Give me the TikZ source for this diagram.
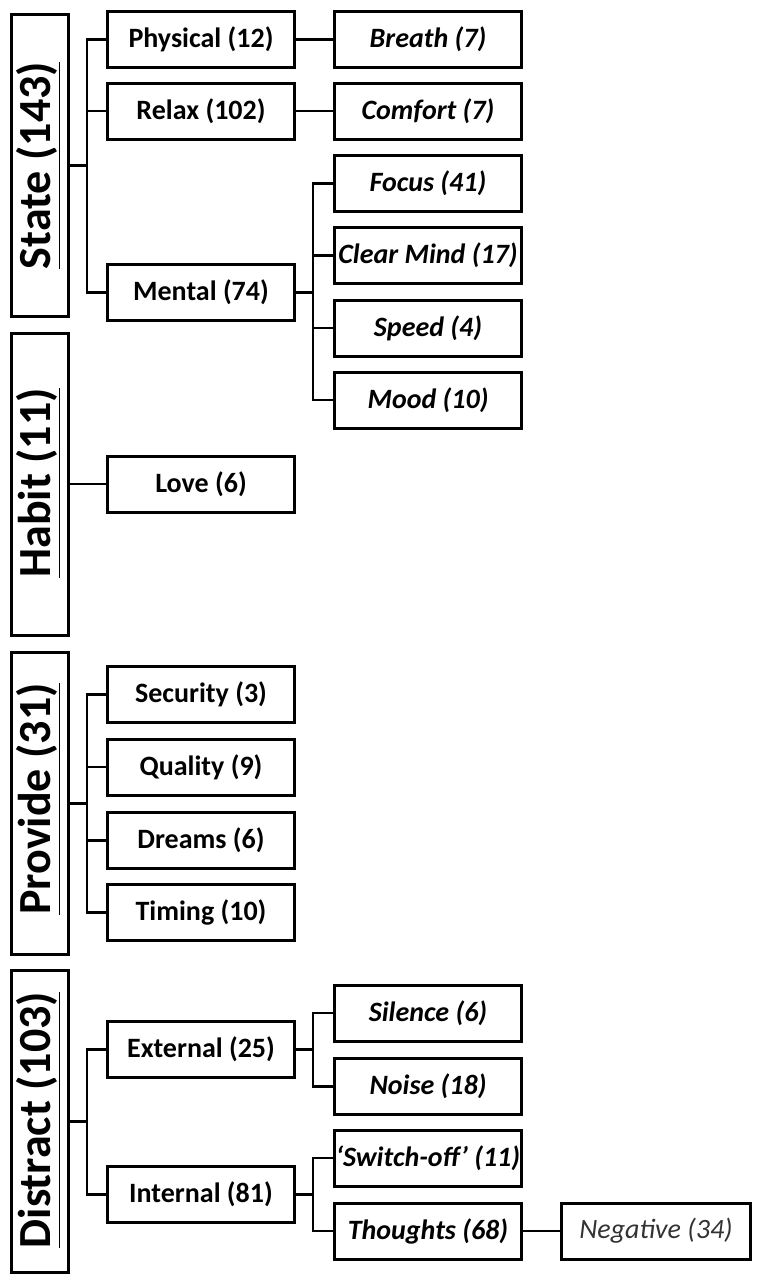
\documentclass[tikz,border=0pt]{standalone}
\usepackage{fontspec}
\setmainfont{Carlito}
\begin{document}
\begin{tikzpicture}[x=1pt,y=-1pt,
  box/.style={draw=black,line width=3pt,rectangle,inner sep=0pt,minimum width=187pt,minimum height=56pt,font=\fontsize{28}{30}\selectfont\bfseries},
  ibox/.style={box,font=\fontsize{28}{30}\selectfont\bfseries\itshape},
  nbox/.style={box,text=black!80,font=\fontsize{28}{30}\selectfont\itshape,minimum width=189pt},
  cat/.style={draw=black,line width=3pt,rectangle,inner sep=0pt,minimum width=57pt,minimum height=302pt},
  cattext/.style={rotate=90,inner sep=0pt,font=\fontsize{46}{50}\selectfont\bfseries},
  conn/.style={line width=2.4pt,line cap=rect}]
\useasboundingbox (0,0) rectangle (761,1285);
% category boxes
\node[cat] (state) at (40,165.5) {};
\node[cat] (habit) at (40,484) {};
\node[cat] (provide) at (40,803.5) {};
\node[cat] (distract) at (40,1121.5) {};
\node[cattext] (stateT) at (38,165.5) {\underline{State (143)}};
\node[cattext] (habitT) at (38,483) {\underline{Habit (11)}};
\node[cattext] (provideT) at (38,799) {\underline{Provide (31)}};
\node[cattext] (distractT) at (38,1120) {\underline{Distract (103)}};
% level 2
\node[box] (physical) at (201,39.5) {Physical (12)};
\node[box] (relax) at (201,111) {Relax (102)};
\node[box] (mental) at (201,292.5) {Mental (74)};
\node[box] (love) at (201,484) {Love (6)};
\node[box] (security) at (201,694.5) {Security (3)};
\node[box] (quality) at (201,767) {Quality (9)};
\node[box] (dreams) at (201,840.5) {Dreams (6)};
\node[box] (timing) at (201,912.5) {Timing (10)};
\node[box] (external) at (201,1049.5) {External (25)};
\node[box] (internal) at (201,1194.5) {Internal (81)};
% level 3
\node[ibox] (breath) at (428,39.5) {Breath (7)};
\node[ibox] (comfort) at (428,111) {Comfort (7)};
\node[ibox] (focus) at (428,183.5) {Focus (41)};
\node[ibox] (clear) at (428,255.5) {Clear Mind (17)};
\node[ibox] (speed) at (428,328) {Speed (4)};
\node[ibox] (mood) at (428,400) {Mood (10)};
\node[ibox] (silence) at (428,1013) {Silence (6)};
\node[ibox] (noise) at (428,1086.5) {Noise (18)};
\node[ibox] (switch) at (428,1158) {‘Switch-off’ (11)};
\node[ibox] (thoughts) at (428,1231) {Thoughts (68)};
\node[nbox] (negative) at (656,1231) {Negative (34)};
% connectors: State
\draw[conn] (state.east) -- ++(17,0);
\draw[conn] (physical.west) -- ++(-19,0) |- (mental.west);
\draw[conn] (relax.west) -- ++(-19,0);
\draw[conn] (physical.east) -- (breath.west);
\draw[conn] (relax.east) -- (comfort.west);
\draw[conn] (mental.east) -- ++(17,0);
\draw[conn] (focus.west) -- ++(-20,0) |- (mood.west);
\draw[conn] (clear.west) -- ++(-20,0);
\draw[conn] (speed.west) -- ++(-20,0);
% Habit
\draw[conn] (habit.east) -- (love.west);
% Provide
\draw[conn] (provide.east) -- ++(17,0);
\draw[conn] (security.west) -- ++(-19,0) |- (timing.west);
\draw[conn] (quality.west) -- ++(-19,0);
\draw[conn] (dreams.west) -- ++(-19,0);
% Distract
\draw[conn] (distract.east) -- ++(17,0);
\draw[conn] (external.west) -- ++(-19,0) |- (internal.west);
\draw[conn] (external.east) -- ++(17,0);
\draw[conn] (silence.west) -- ++(-20,0) |- (noise.west);
\draw[conn] (internal.east) -- ++(17,0);
\draw[conn] (switch.west) -- ++(-20,0) |- (thoughts.west);
\draw[conn] (thoughts.east) -- (negative.west);
\end{tikzpicture}
\end{document}
